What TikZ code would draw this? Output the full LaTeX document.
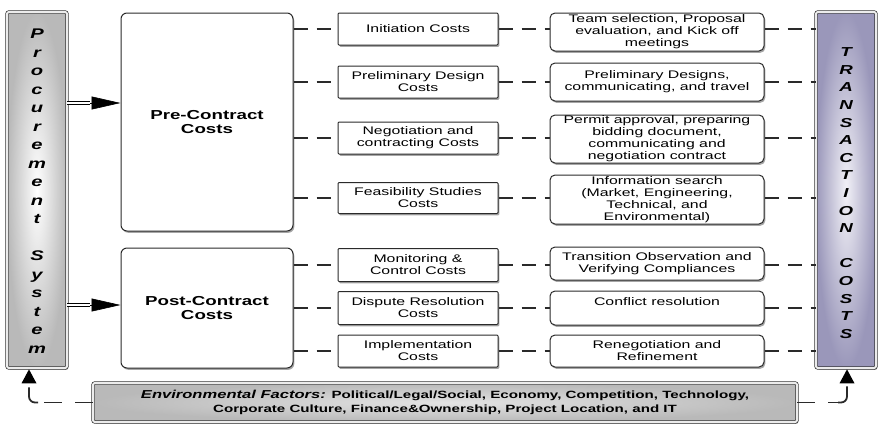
\documentclass[tikz,border=0pt]{standalone}
\usepackage{fontspec}
\setmainfont{Liberation Sans}[FakeStretch=1.44]
\usetikzlibrary{arrows.meta,shadows,calc}
\definecolor{lavout}{HTML}{9A97BA}
\definecolor{lavin}{HTML}{F2F1F7}
\definecolor{edge}{HTML}{2A2A2A}
\begin{document}
\begin{tikzpicture}[x=1pt,y=-1pt,
  shad/.style={drop shadow={shadow xshift=1.3pt,shadow yshift=-1.8pt,fill=black,opacity=0.35}},
  midbox/.style={draw=edge,line width=1pt,fill=white,shad,inner sep=0pt,align=center,
    font=\fontsize{11}{12}\selectfont,rounded corners=1pt},
  descbox/.style={midbox,rounded corners=5pt},
  phase/.style={draw=edge,line width=1pt,fill=white,shad,inner sep=0pt,align=center,
    font=\bfseries\fontsize{13}{13.5}\selectfont,rounded corners=6pt,
    minimum width=172pt},
  bar/.style={draw=black!80,line width=0.7pt,double=gray!15,double distance=2pt,
    rounded corners=2pt,shad,inner sep=0pt,minimum width=60pt,minimum height=356pt,align=center},
  conn/.style={draw=edge,line width=1.7pt,dash pattern=on 14pt off 9pt},
  bdash/.style={draw=edge,line width=1.8pt,dash pattern=on 18pt off 13pt},
  stem/.style={draw=edge,line width=1.8pt,rounded corners=6pt},
  tiphead/.style={fill=black},
  shaft/.style={draw=black,line width=0.6pt,double=white,double distance=2.2pt},
  head/.style={draw=black,line width=0.6pt,-{Triangle[length=29pt,width=13pt]}}
]
\useasboundingbox (0,0) rectangle (880,426);

% side bars
\node[bar,inner color=white,outer color=gray!55] (ps) at (37,190) {};
\node[font=\bfseries\itshape\fontsize{14}{18.5}\selectfont,align=center] (pstext) at (37,191)
  {P\\r\\o\\c\\u\\r\\e\\m\\e\\n\\t\\\mbox{}\\S\\y\\s\\t\\e\\m};
\node[bar,inner color=lavin,outer color=lavout] (tc) at (846,190) {};
\node[font=\bfseries\itshape\fontsize{13}{17.6}\selectfont,align=center] (tctext) at (846,193)
  {T\\R\\A\\N\\S\\A\\C\\T\\I\\O\\N\\\mbox{}\\C\\O\\S\\T\\S};

% phase boxes
\node[phase,minimum height=218pt] (pre) at (207,122) {Pre-Contract\\Costs};
\node[phase,minimum height=120pt] (post) at (207,308) {Post-Contract\\Costs};

% middle boxes
\node[midbox,minimum width=160pt,minimum height=32pt] (init) at (418,29) {Initiation Costs};
\node[midbox,minimum width=160pt,minimum height=32pt] (prel) at (418,82) {Preliminary Design\\Costs};
\node[midbox,minimum width=160pt,minimum height=32pt] (nego) at (418,138) {Negotiation and\\contracting Costs};
\node[midbox,minimum width=160pt,minimum height=31pt] (feas) at (418,198) {Feasibility Studies\\Costs};
\node[midbox,minimum width=160pt,minimum height=33pt] (moni) at (418,265) {Monitoring \&\\Control Costs};
\node[midbox,minimum width=160pt,minimum height=33pt] (disp) at (418,308) {Dispute Resolution\\Costs};
\node[midbox,minimum width=160pt,minimum height=32pt] (impl) at (418,351) {Implementation\\Costs};

% description boxes
\node[descbox,minimum width=214pt,minimum height=38pt] (r1) at (657,32) {Team selection, Proposal\\evaluation, and Kick off\\meetings};
\node[descbox,minimum width=214pt,minimum height=38pt] (r2) at (657,82) {Preliminary Designs,\\communicating, and travel};
\node[descbox,minimum width=214pt,minimum height=48pt] (r3) at (657,139) {Permit approval, preparing\\bidding document,\\communicating and\\negotiation contract};
\node[descbox,minimum width=214pt,minimum height=49pt] (r4) at (657,199.5) {Information search\\(Market, Engineering,\\Technical, and\\Environmental)};
\node[descbox,minimum width=214pt,minimum height=33pt] (r5) at (657,263.5) {Transition Observation and\\Verifying Compliances};
\node[descbox,minimum width=214pt,minimum height=34pt] (r6) at (657,308) {Conflict resolution\\\mbox{}};
\node[descbox,minimum width=214pt,minimum height=32pt] (r7) at (657,351) {Renegotiation and\\Refinement};

% environmental factors
\node[draw=black!80,line width=0.7pt,double=gray!15,double distance=2pt,rounded corners=2pt,shad,
  inner color=gray!22,outer color=gray!55,minimum width=704pt,minimum height=39pt,inner sep=0pt,
  align=center,font=\bfseries\fontsize{10.5}{13.5}\selectfont] (env) at (445,402.5)
  {{\itshape\fontsize{11.5}{13.5}\selectfont Environmental Factors:} Political/Legal/Social, Economy, Competition, Technology,\\Corporate Culture, Finance\&Ownership, Project Location, and IT};

% dashed connectors
\foreach \m/\r/\p in {init/r1/pre,prel/r2/pre,nego/r3/pre,feas/r4/pre,moni/r5/post,disp/r6/post,impl/r7/post}{
  \draw[conn] (\p.east |- \m.west) -- (\m.west);
  \draw[conn] (\m.east) -- (\m.east -| \r.west);
  \draw[conn] (\m.east -| \r.east) -- (\m.east -| tc.west);
}

% arrows from procurement system
\draw[head] (ps.east |- 0,103) -- (pre.west |- 0,103);
\draw[shaft] (ps.east |- 0,103) -- ++(23,0);
\draw[head] (ps.east |- 0,305) -- (post.west |- 0,305);
\draw[shaft] (ps.east |- 0,305) -- ++(23,0);

% environmental feedback
\coordinate (lb) at ([xshift=-8pt,yshift=-19pt]ps.south);
\coordinate (rb) at ([xshift=1pt,yshift=-18pt]tc.south);
\draw[bdash] (env.west) -- ([xshift=14pt]env.west -| lb);
\draw[stem] ([xshift=9pt]env.west -| lb) -| (lb);
\fill[tiphead] ([yshift=-1pt]ps.south -| lb) -- ++(-7.5,14) -- ++(15,0) -- cycle;
\draw[bdash] (env.east) -- ([xshift=-4pt]env.east -| rb);
\draw[stem] ([xshift=-9pt]env.east -| rb) -| (rb);
\fill[tiphead] ([yshift=-1pt]tc.south -| rb) -- ++(-7.5,14) -- ++(15,0) -- cycle;
\end{tikzpicture}
\end{document}
